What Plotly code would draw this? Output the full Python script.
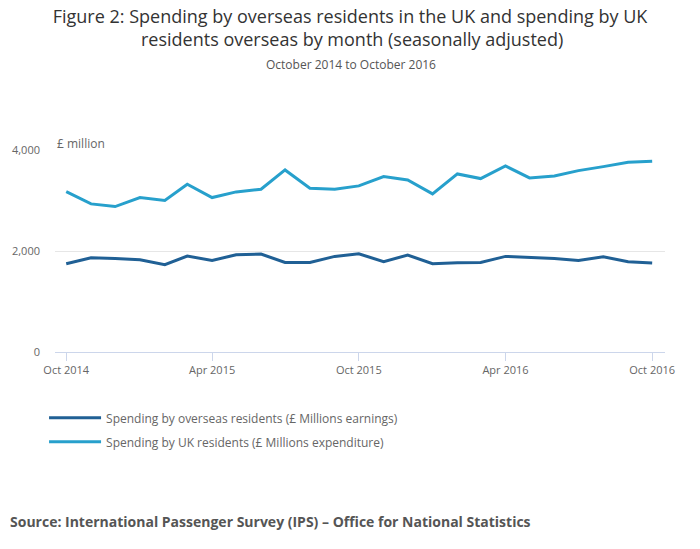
import plotly.graph_objects as go

# monthly, Oct 2014 .. Oct 2016
months = ["2014-10-01", "2014-11-01", "2014-12-01", "2015-01-01", "2015-02-01",
          "2015-03-01", "2015-04-01", "2015-05-01", "2015-06-01", "2015-07-01",
          "2015-08-01", "2015-09-01", "2015-10-01", "2015-11-01", "2015-12-01",
          "2016-01-01", "2016-02-01", "2016-03-01", "2016-04-01", "2016-05-01",
          "2016-06-01", "2016-07-01", "2016-08-01", "2016-09-01", "2016-10-01"]

overseas_earnings = [1748, 1867, 1853, 1827, 1728, 1900, 1814, 1926, 1940, 1774,
                     1774, 1893, 1946, 1788, 1920, 1748, 1768, 1774, 1893, 1880,
                     1853, 1814, 1886, 1788, 1761]

uk_expenditure = [3176, 2933, 2880, 3058, 2999, 3322, 3058, 3170, 3223, 3605,
                  3243, 3223, 3289, 3473, 3407, 3131, 3526, 3434, 3684, 3447,
                  3486, 3592, 3671, 3756, 3776]

tick_dates = ["2014-10-01", "2015-04-01", "2015-10-01", "2016-04-01", "2016-10-01"]
tick_text = ["Oct 2014", "Apr 2015", "Oct 2015", "Apr 2016", "Oct 2016"]

FONT = "Open Sans"
W, H = 700, 549
L, R, T, B = 52, 35, 150, 196.5
PH = H - T - B
PW = W - L - R


def py(px):
    # page pixel row -> paper y
    return (H - px - B) / PH


def px_(x):
    # page pixel column -> paper x
    return (x - L) / PW


fig = go.Figure()
fig.add_trace(go.Scatter(
    x=months, y=overseas_earnings, mode="lines",
    name="Spending by overseas residents (£ Millions earnings)",
    line=dict(color="#206095", width=3), legendgroup="a"))
fig.add_trace(go.Scatter(
    x=months, y=uk_expenditure, mode="lines",
    name="Spending by UK residents (£ Millions expenditure)",
    line=dict(color="#27a0cc", width=3), legendgroup="b"))

fig.update_layout(
    width=W, height=H,
    margin=dict(l=L, r=R, t=T, b=B),
    paper_bgcolor="white", plot_bgcolor="white",
    font=dict(family=FONT, color="#666666", size=11),
    title=dict(
        text="Figure 2: Spending by overseas residents in the UK and spending by UK",
        x=0.5, xanchor="center", y=1 - 17 / H, yanchor="middle",
        font=dict(family=FONT, size=18, color="#333333")),
    showlegend=True,
    legend=dict(x=px_(41), xanchor="left", y=py(404), yanchor="top",
                orientation="v", tracegroupgap=5, itemwidth=52,
                font=dict(family=FONT, size=12, color="#666666")),
    xaxis=dict(
        type="date", range=["2014-09-17", "2016-10-17"],
        tickvals=tick_dates, ticktext=tick_text,
        showgrid=False, showline=True, linecolor="#ccd6eb", linewidth=1,
        ticks="outside", ticklen=8, tickcolor="#ccd6eb",
        tickfont=dict(size=11, color="#666666")),
    yaxis=dict(
        range=[0, 4000], tickvals=[0, 2000, 4000], tickformat=",",
        showgrid=True, gridcolor="#e6e6e6", zeroline=False,
        showline=False, ticks="", ticklabelstandoff=14,
        tickfont=dict(size=11, color="#666666")),
    annotations=[
        dict(text="residents overseas by month (seasonally adjusted)",
             xref="paper", yref="paper",
             x=px_(350), xanchor="center", y=py(39), yanchor="middle",
             showarrow=False, font=dict(family=FONT, size=18, color="#333333")),
        dict(text="October 2014 to October 2016", xref="paper", yref="paper",
             x=px_(349), xanchor="center", y=py(64), yanchor="middle",
             showarrow=False, font=dict(family=FONT, size=12, color="#555555")),
        dict(text="£ million", xref="paper", yref="paper",
             x=0, xanchor="left", y=py(143), yanchor="middle",
             showarrow=False, font=dict(family=FONT, size=12, color="#666666")),
        dict(text="<b>Source: International Passenger Survey (IPS) – Office for National Statistics</b>",
             xref="paper", yref="paper",
             x=px_(5), xanchor="left", y=py(522), yanchor="middle",
             showarrow=False, font=dict(family=FONT, size=14, color="#555555")),
    ],
)

fig.write_html("out.html", config={"displayModeBar": False},
               post_script="document.body.style.margin='0';")
